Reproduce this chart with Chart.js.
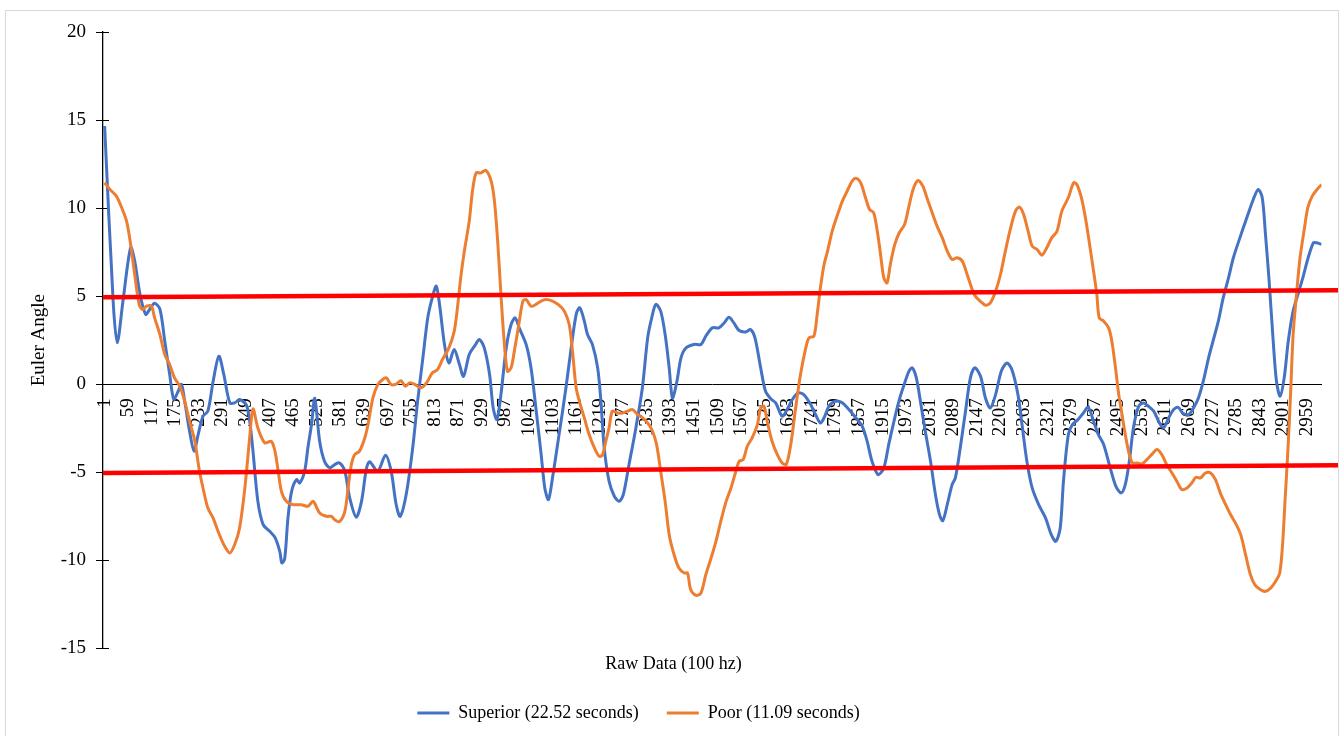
<!DOCTYPE html>
<html>
<head>
<meta charset="utf-8">
<script src="https://cdn.jsdelivr.net/npm/chart.js@4.4.1/dist/chart.umd.min.js"></script>
<style>
  html, body { margin: 0; padding: 0; background: #ffffff; overflow: hidden; }
  #wrap { position: absolute; left: 0; top: 0; width: 1344px; height: 736px; }
  #frame { position: absolute; left: 5px; top: 10px; width: 1334px; height: 740px; border: 1px solid #d9d9d9; box-sizing: border-box; pointer-events: none; }
</style>
</head>
<body>
<div id="wrap"><canvas id="c"></canvas></div>
<div id="frame"></div>
<script>
// ---- Data ----
const sampleSup = [1,22,32,46,65,75,88,102,112,124,137,149,161,171,182,190,198,210,221,231,243,255,268,282,294,309,321,333,350,358,366,378,391,407,420,432,437,444,452,461,473,481,493,501,510,518,530,542,555,567,579,592,604,620,633,645,653,673,692,706,718,728,743,759,771,784,796,807,817,826,837,848,861,874,884,898,911,923,935,948,957,966,976,989,1001,1011,1021,1038,1050,1062,1075,1084,1093,1103,1119,1136,1151,1162,1170,1181,1189,1201,1214,1222,1230,1242,1255,1267,1277,1291,1308,1324,1337,1347,1357,1369,1380,1390,1398,1409,1419,1431,1451,1468,1480,1496,1512,1525,1537,1549,1562,1578,1590,1601,1615,1627,1640,1652,1668,1680,1693,1707,1721,1738,1750,1762,1771,1783,1799,1816,1832,1849,1865,1877,1889,1904,1918,1930,1943,1955,1968,1980,1988,1998,2008,2020,2033,2045,2055,2063,2074,2086,2094,2106,2119,2131,2142,2156,2168,2180,2193,2207,2221,2233,2248,2258,2270,2283,2299,2316,2330,2341,2352,2360,2372,2382,2396,2409,2421,2434,2446,2459,2475,2489,2502,2512,2522,2532,2545,2557,2569,2582,2594,2606,2619,2631,2642,2653,2668,2680,2692,2704,2717,2729,2741,2753,2766,2778,2794,2811,2827,2839,2849,2857,2866,2876,2884,2893,2903,2913,2925,2938,2950,2962,2975,2983,2995];
const superior = [14.66,4.7,2.35,4.7,7.75,7.0,5.1,3.97,4.26,4.6,4.26,2.44,0.57,-0.85,-0.4,0.0,-0.97,-2.67,-3.8,-2.86,-1.82,-1.53,0.17,1.59,0.57,-1.06,-1.06,-0.87,-1.2,-2.1,-3.8,-6.65,-7.97,-8.35,-8.7,-9.5,-10.15,-9.9,-7.6,-6.08,-5.42,-5.6,-4.94,-3.62,-2.29,-0.8,-3.24,-4.38,-4.75,-4.56,-4.47,-4.94,-6.46,-7.55,-6.65,-4.8,-4.4,-4.94,-4.03,-4.94,-6.8,-7.5,-6.25,-3.6,-0.97,1.5,3.77,4.9,5.57,4.34,2.27,1.21,1.97,1.12,0.45,1.69,2.16,2.54,2.06,0.57,-1.35,-2.0,-0.59,2.06,3.39,3.77,3.2,2.26,0.93,-1.35,-4.0,-5.9,-6.55,-5.3,-2.86,-0.2,2.44,4.05,4.34,3.6,2.82,2.26,0.93,-0.97,-3.6,-5.5,-6.36,-6.65,-6.27,-4.57,-2.48,-0.2,2.63,3.77,4.53,4.15,2.82,0.93,-0.78,0.17,1.5,2.06,2.26,2.26,2.73,3.2,3.2,3.48,3.8,3.48,3.05,2.97,3.1,2.63,0.93,-0.4,-0.83,-1.06,-1.82,-1.44,-0.87,-0.49,-0.59,-1.15,-1.72,-2.2,-1.9,-1.25,-0.97,-1.06,-1.44,-1.9,-2.39,-3.24,-4.38,-5.13,-4.75,-3.43,-2.1,-0.97,-0.02,0.74,0.93,0.36,-0.97,-2.67,-4.38,-6.27,-7.4,-7.75,-6.84,-5.7,-5.32,-3.62,-1.53,0.36,0.93,0.45,-0.78,-1.35,-0.59,0.74,1.21,0.83,-0.59,-2.29,-4.38,-5.89,-6.84,-7.6,-8.54,-8.92,-8.16,-5.5,-2.86,-2.29,-2.0,-1.63,-1.31,-2.1,-2.86,-3.43,-4.75,-5.8,-6.17,-5.7,-4.38,-2.48,-1.25,-1.06,-1.25,-1.53,-2.1,-2.48,-1.9,-1.44,-1.31,-1.63,-1.72,-1.35,-0.78,0.17,1.5,2.54,3.58,4.9,6.04,7.18,8.31,9.45,10.49,11.06,10.59,8.5,5.85,2.44,0.17,-0.68,0.36,2.44,4.15,5.19,6.14,7.18,8.03,8.03,7.94];

const samplePoor = [1,14,30,43,55,65,75,86,94,104,116,124,137,149,161,173,186,198,210,223,233,243,255,268,280,294,309,321,333,346,358,366,378,395,411,420,428,436,448,465,485,501,514,530,547,559,567,579,592,600,608,616,628,641,649,661,673,685,694,706,718,730,741,752,765,779,793,807,820,832,848,861,869,877,886,898,906,915,927,939,952,960,968,976,984,992,1001,1009,1020,1030,1038,1050,1062,1075,1087,1103,1119,1132,1144,1152,1161,1169,1181,1193,1206,1218,1226,1234,1242,1250,1263,1275,1287,1300,1312,1324,1337,1349,1359,1369,1380,1390,1402,1414,1427,1435,1443,1456,1468,1480,1493,1505,1517,1530,1542,1554,1562,1572,1582,1594,1607,1615,1623,1631,1643,1656,1668,1678,1689,1701,1713,1726,1734,1746,1754,1762,1771,1779,1791,1803,1816,1828,1840,1850,1861,1873,1883,1893,1902,1910,1918,1926,1934,1945,1956,1969,1979,1990,2002,2014,2024,2037,2049,2062,2074,2086,2098,2111,2123,2134,2143,2155,2168,2180,2193,2205,2217,2230,2242,2252,2262,2273,2283,2295,2307,2319,2331,2344,2356,2372,2385,2393,2404,2414,2423,2434,2442,2448,2459,2471,2479,2488,2496,2504,2512,2522,2530,2541,2553,2565,2577,2590,2602,2614,2627,2639,2651,2664,2676,2686,2697,2709,2722,2734,2746,2759,2771,2783,2796,2808,2820,2831,2845,2857,2870,2882,2892,2899,2905,2912,2919,2925,2934,2942,2953,2961,2972,2986,2995];
const poor = [11.44,11.06,10.68,10.02,9.26,7.94,6.23,4.53,4.24,4.43,4.43,3.77,2.82,1.69,1.12,0.36,-0.11,-0.97,-2.1,-3.24,-4.75,-5.89,-7.03,-7.6,-8.35,-9.1,-9.58,-9.1,-8.16,-5.9,-3.0,-1.4,-2.48,-3.33,-3.24,-3.8,-4.94,-6.08,-6.65,-6.84,-6.84,-6.93,-6.65,-7.31,-7.5,-7.5,-7.69,-7.8,-7.22,-5.89,-4.56,-4.0,-3.8,-3.05,-2.29,-0.78,-0.02,0.27,0.36,-0.02,0.0,0.2,-0.11,0.08,-0.02,-0.2,0.08,0.64,0.83,1.4,2.06,3.0,4.34,6.04,7.56,9.26,10.97,12.0,12.0,12.14,11.53,10.4,8.13,5.1,2.44,0.74,0.93,1.88,3.39,4.72,4.81,4.43,4.53,4.72,4.81,4.72,4.49,4.15,3.39,1.88,-0.2,-0.97,-1.9,-2.86,-3.62,-4.1,-4.0,-3.24,-2.48,-1.53,-1.63,-1.63,-1.53,-1.44,-1.72,-1.9,-2.2,-2.67,-3.43,-4.94,-6.65,-8.54,-9.68,-10.44,-10.72,-10.72,-11.67,-11.99,-11.86,-10.82,-9.87,-8.92,-7.78,-6.65,-5.89,-4.94,-4.38,-4.28,-3.52,-3.05,-2.29,-1.35,-1.25,-2.1,-3.24,-4.0,-4.47,-4.56,-3.43,-1.35,0.55,2.06,2.63,2.73,3.96,5.47,6.8,7.5,8.69,9.55,10.4,10.97,11.53,11.69,11.44,10.59,9.92,9.74,8.69,7.37,6.04,5.76,6.8,7.94,8.6,9.07,10.02,11.06,11.57,11.25,10.59,9.74,8.98,8.31,7.56,7.08,7.18,6.99,6.23,5.47,5.0,4.72,4.49,4.62,5.28,6.23,7.56,8.88,9.83,10.06,9.64,8.69,7.84,7.65,7.33,7.75,8.31,8.69,9.83,10.6,11.44,11.34,10.59,9.45,8.13,6.42,5.1,3.77,3.58,3.2,2.44,0.93,-0.59,-1.72,-2.86,-4.0,-4.47,-4.47,-4.53,-4.28,-4.0,-3.71,-4.0,-4.57,-5.04,-5.51,-5.98,-5.89,-5.6,-5.28,-5.32,-5.04,-5.04,-5.42,-6.18,-6.84,-7.4,-7.88,-8.54,-9.68,-10.82,-11.39,-11.67,-11.76,-11.57,-11.19,-10.72,-9.11,-6.65,-3.81,-0.4,2.82,5.28,7.18,8.88,10.02,10.68,11.12,11.34];

// red threshold lines (drawn shapes in the original)
const thresholdX = [-3, 3037];
const upperLimit = [4.94, 5.34];
const lowerLimit = [-5.04, -4.6];

const xTickLabels = [1,59,117,175,233,291,349,407,465,523,581,639,697,755,813,871,929,987,1045,1103,1161,1219,1277,1335,1393,1451,1509,1567,1625,1683,1741,1799,1857,1915,1973,2031,2089,2147,2205,2263,2321,2379,2437,2495,2553,2611,2669,2727,2785,2843,2901,2959];
const yTicks = [-15, -10, -5, 0, 5, 10, 15, 20];

const seriesNames = ['Superior (22.52 seconds)', 'Poor (11.09 seconds)'];
const xTitle = 'Raw Data (100 hz)';
const yTitle = 'Euler Angle';

// ---- Chart ----
const pts = (xs, ys) => xs.map((x, i) => ({ x: x, y: ys[i] }));
const FONT = 'Liberation Serif';
const X_MIN = -3, X_MAX = 2995;

// the legend in the original sits a little left of the page centre
const legendShift = {
  id: 'legendShift',
  afterLayout(chart) {
    const l = chart.legend;
    if (l) { l.left -= 35; l.right -= 35; }
  }
};

new Chart(document.getElementById('c'), {
  type: 'line',
  data: {
    datasets: [
      { label: seriesNames[0], data: pts(sampleSup, superior), borderColor: '#4472C4', backgroundColor: '#4472C4', borderWidth: 3, pointRadius: 0, tension: 0.3, order: 3 },
      { label: seriesNames[1], data: pts(samplePoor, poor), borderColor: '#ED7D31', backgroundColor: '#ED7D31', borderWidth: 3, pointRadius: 0, tension: 0.3, order: 2 },
      { label: 'upper', data: pts(thresholdX, upperLimit), borderColor: '#FF0000', borderWidth: 4.5, pointRadius: 0, tension: 0, clip: false, order: 1 },
      { label: 'lower', data: pts(thresholdX, lowerLimit), borderColor: '#FF0000', borderWidth: 4.5, pointRadius: 0, tension: 0, clip: false, order: 1 }
    ]
  },
  options: {
    responsive: true,
    maintainAspectRatio: false,
    animation: false,
    events: [],
    layout: { padding: { left: 24, right: 21, top: 32, bottom: 4 } },
    scales: {
      x: {
        type: 'linear',
        position: { y: 0 },
        min: X_MIN, max: X_MAX,
        grid: { display: false, drawTicks: false },
        border: { display: true, color: '#000000', width: 1 },
        afterBuildTicks: (s) => { s.ticks = xTickLabels.map(v => ({ value: v })); },
        ticks: {
          autoSkip: false, minRotation: 90, maxRotation: 90, padding: 14,
          color: '#000000', font: { family: FONT, size: 19 },
          callback: (v) => String(v)
        }
      },
      y: {
        type: 'linear',
        position: 'left',
        min: -15, max: 20,
        afterBuildTicks: (s) => { s.ticks = yTicks.map(v => ({ value: v })); },
        afterFit: (s) => { s.width = 79; },
        grid: { display: true, drawOnChartArea: false, drawTicks: true, tickLength: 7, color: '#000000' },
        border: { display: true, color: '#000000', width: 1.3 },
        ticks: { padding: 10, color: '#000000', font: { family: FONT, size: 19 } },
        title: { display: true, text: yTitle, color: '#000000', font: { family: FONT, size: 19 }, padding: { top: 4, bottom: 4 } }
      },
      yInner: {
        type: 'linear',
        position: { x: X_MIN + 6 * (X_MAX - X_MIN) / 1220 },
        min: -15, max: 20,
        afterBuildTicks: (s) => { s.ticks = yTicks.map(v => ({ value: v })); },
        grid: { display: true, drawOnChartArea: false, drawTicks: true, tickLength: 6, color: '#000000' },
        border: { display: false },
        ticks: { display: false }
      }
    },
    plugins: {
      tooltip: { enabled: false },
      title: {
        display: true, text: xTitle, position: 'bottom', weight: 500,
        color: '#000000', font: { family: FONT, size: 18, weight: 'normal' },
        padding: { top: 5, bottom: 1 }
      },
      legend: {
        position: 'bottom',
        weight: 1000,
        labels: {
          usePointStyle: true, pointStyle: 'line', pointStyleWidth: 32,
          padding: 28, color: '#000000', font: { family: FONT, size: 18 },
          filter: (item) => item.datasetIndex < 2,
          sort: (a, b) => a.datasetIndex - b.datasetIndex
        }
      }
    }
  },
  plugins: [legendShift]
});
</script>
</body>
</html>
